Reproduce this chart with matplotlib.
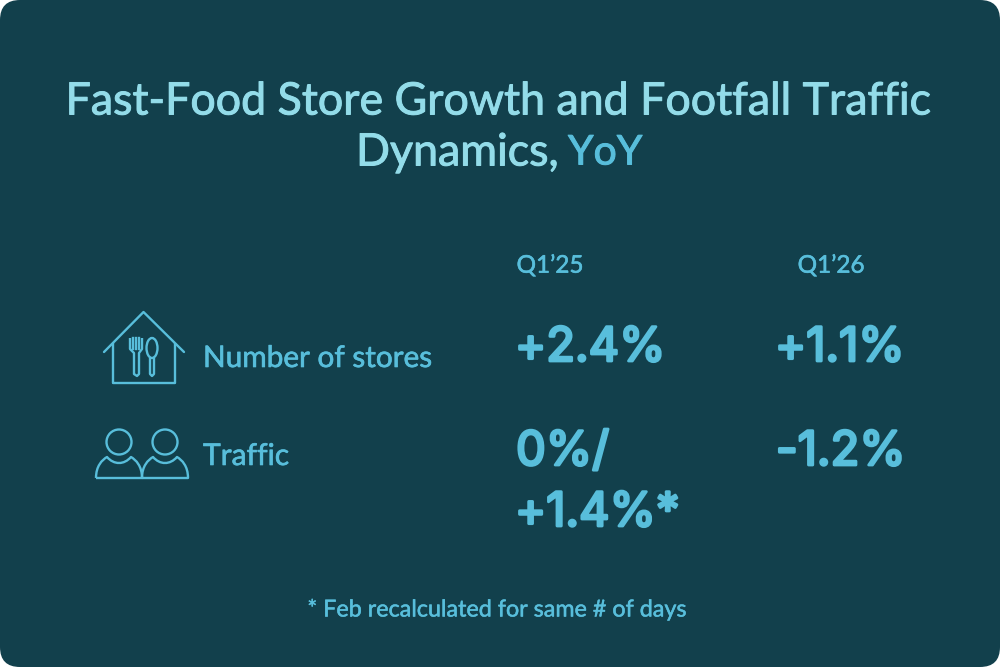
import matplotlib
matplotlib.use("Agg")
import matplotlib.pyplot as plt
import matplotlib.patheffects as pe
from matplotlib.patches import FancyBboxPatch, Circle, Ellipse, PathPatch
from matplotlib.path import Path

plt.rcParams['font.family'] = ['Lato', 'DejaVu Sans']

title_line1 = "Fast-Food Store Growth and Footfall Traffic"
title_line2_a = "Dynamics,"
title_line2_b = "YoY"
periods = ["Q1’25", "Q1’26"]
rows = ["Number of stores", "Traffic"]
values_q125 = ["+2.4%", "0%/\n+1.4%*"]
values_q126 = ["+1.1%", "-1.2%"]
footnote = "* Feb recalculated for same # of days"

BG = "#12404C"
LIGHT = "#93DCE9"
MID = "#58BEDB"

fig = plt.figure(figsize=(10, 6.67), dpi=100, facecolor="white")
ax = fig.add_axes([0, 0, 1, 1])
ax.set_xlim(0, 1000)
ax.set_ylim(667, 0)
ax.axis("off")

ax.add_patch(FancyBboxPatch((20, 20), 960, 627, boxstyle="round,pad=20,rounding_size=20",
                            fc=BG, ec="none"))

def label(x, y, s, color, size, stroke, ha="left", family=None):
    t = ax.text(x, y, s, color=color, fontsize=size, ha=ha, va="center",
                family=family if family else ['Lato', 'DejaVu Sans'])
    t.set_path_effects([pe.withStroke(linewidth=stroke, foreground=color)])
    return t

# title
label(498.5, 102, title_line1, LIGHT, 32.2, 0.7, ha="center")
label(356, 153, title_line2_a, LIGHT, 32.2, 0.7)
label(568, 153, title_line2_b, MID, 29.5, 0.7)

# headers
label(550, 266, periods[0], MID, 17.5, 0.4, ha="center")
label(831, 266, periods[1], MID, 17.5, 0.4, ha="center")

# row labels
label(203, 358, rows[0], MID, 21.4, 0.45)
label(203, 456, rows[1], MID, 21.6, 0.45)

# values
VAL = ['Inter', 'DejaVu Sans']
first, second = values_q125[1].split("\n")
label(515, 349, values_q125[0], MID, 34, 2.0, family=VAL)
label(775, 349, values_q126[0], MID, 34, 2.0, family=VAL)
label(516, 453, first, MID, 34, 2.0, family=VAL)
label(515, 514, second, MID, 34, 2.0, family=VAL)
label(776, 453, values_q126[1], MID, 34, 2.0, family=VAL)

# footnote
label(497.5, 610, footnote, MID, 16.8, 0.35, ha="center")

# house icon
lw = 1.7
ax.plot([104, 143.5, 184], [352, 312, 352], color=MID, lw=lw, solid_capstyle="round", solid_joinstyle="round")
ax.add_patch(PathPatch(Path(
    [(113, 343), (113, 383), (175, 383), (175, 343)],
    [Path.MOVETO, Path.LINETO, Path.LINETO, Path.LINETO]),
    fc="none", ec=MID, lw=lw, joinstyle="round"))
# fork
ax.add_patch(PathPatch(Path(
    [(130, 338), (130, 349), (134, 353), (134, 374), (137, 376), (139, 374), (139, 353), (142, 349), (142, 338)],
    [Path.MOVETO] + [Path.LINETO] * 8), fc="none", ec=MID, lw=lw, joinstyle="round"))
for x in (133, 136, 139):
    ax.plot([x, x], [338, 349], color=MID, lw=lw)
# spoon
ax.add_patch(Ellipse((152, 348), 11, 20, fc="none", ec=MID, lw=lw))
ax.add_patch(PathPatch(Path(
    [(150, 358), (150, 374), (152, 376), (154, 374), (154, 358)],
    [Path.MOVETO] + [Path.LINETO] * 4), fc="none", ec=MID, lw=lw, joinstyle="round"))

# people icon
def person(cx):
    ax.add_patch(Circle((cx, 442), 12.5, fc="none", ec=MID, lw=lw))
    ax.add_patch(PathPatch(Path(
        [(cx - 23, 478), (cx - 23, 466), (cx - 17, 460), (cx - 12, 457),
         (cx - 5, 465), (cx + 5, 465), (cx + 12, 457),
         (cx + 17, 460), (cx + 23, 466), (cx + 23, 478), (cx - 23, 478)],
        [Path.MOVETO, Path.CURVE4, Path.CURVE4, Path.CURVE4,
         Path.CURVE4, Path.CURVE4, Path.CURVE4,
         Path.CURVE4, Path.CURVE4, Path.CURVE4, Path.LINETO]),
        fc="none", ec=MID, lw=lw, joinstyle="round"))
person(119)
person(165)

fig.savefig("out.png", dpi=100, facecolor="white")
